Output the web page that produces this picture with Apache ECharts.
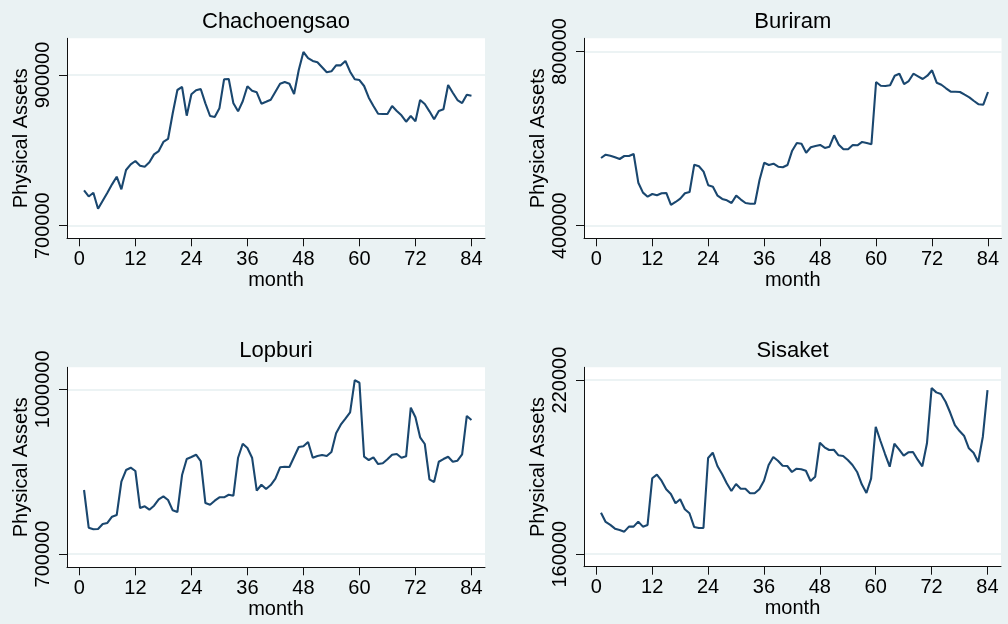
<!DOCTYPE html>
<html><head><meta charset="utf-8">
<script src="https://cdn.jsdelivr.net/npm/echarts@6/dist/echarts.min.js"></script>
<style>html,body{margin:0;padding:0;background:#eaf2f3}#c{width:1008px;height:624px}</style>
</head><body><div id="c"></div><script>
const months = [1,2,3,4,5,6,7,8,9,10,11,12,13,14,15,16,17,18,19,20,21,22,23,24,25,26,27,28,29,30,31,32,33,34,35,36,37,38,39,40,41,42,43,44,45,46,47,48,49,50,51,52,53,54,55,56,57,58,59,60,61,62,63,64,65,66,67,68,69,70,71,72,73,74,75,76,77,78,79,80,81,82,83,84];
const xTicks = [0,12,24,36,48,60,72,84];
const panelTitles = ['Chachoengsao','Buriram','Lopburi','Sisaket'];
const chachoengsao = [746800,738800,743700,722500,733200,743800,754900,765000,748300,773900,
 781500,785900,779600,778300,784100,794700,799100,811100,815100,849200,
 880100,884100,846000,874400,879700,881400,862400,845600,844200,855800,
 894300,894700,862400,851800,865100,885000,879100,877000,861900,864500,
 867200,877800,888400,890700,888400,874800,906600,930500,922500,918600,
 916800,910200,903600,904900,912800,912800,918600,904400,894300,893300,
 885400,869900,858800,848600,848200,848200,858800,852200,846500,838000,
 845600,838500,866800,861500,851800,841200,852200,854500,886700,876500,
 866800,862800,873800,872500];
const buriram = [555400,563000,560700,557000,553100,560000,560000,564600,498700,475800,
 466600,472800,469800,474400,475100,447500,454400,462000,474400,477400,
 540100,536400,524000,492800,489500,468900,461300,458300,452100,468900,
 460000,452000,450500,450500,504900,544600,539400,542400,535500,534100,
 539400,572200,589900,588300,567600,580000,583000,585300,578400,581400,
 607600,586000,575400,575400,585300,584600,592200,589900,586900,729900,
 721400,720800,722300,744400,749000,725300,732200,749000,743000,736800,
 744400,756800,728300,723700,715500,707700,707700,707000,700800,694800,
 686300,678700,677800,707000];
const lopburi = [816600,747900,745000,745500,754600,756500,768000,771000,831700,853000,
 857200,851200,783800,786900,780700,788000,799600,805100,798400,779600,
 776500,843900,873000,876700,880900,869400,792900,789800,797100,803300,
 803300,808000,806200,875400,900900,893100,875400,815300,826200,818400,
 825700,837200,857900,859000,858500,876700,894900,896200,904000,875400,
 878500,880300,878500,885800,919900,935500,946500,958100,1016900,1012000,
 877200,871200,876100,863900,865200,872500,880900,882200,875400,878000,
 966500,949000,912600,900400,836100,831100,868100,873000,877200,868100,
 869900,881600,951400,944100];
const sisaket = [174320,171120,170090,168810,168360,167780,169500,169500,171220,169500,
 170090,186160,187400,185330,182370,180760,177550,178930,175490,174110,
 169400,169050,169050,193150,194970,190390,187640,184440,181790,184200,
 182580,182580,181000,181000,182370,185330,190740,193490,192220,190500,
 190390,188330,189460,189260,188770,185230,186710,198410,196830,195900,
 196000,194080,193840,192460,190740,188330,184090,181100,186020,203920,
 199100,194520,190150,198070,196140,193940,195110,195210,192560,190290,
 198210,217240,215760,215180,212530,208740,204510,202440,200720,196490,
 194970,191770,200480,216550];
const yTicks = [[700000,900000],[400000,800000],[700000,1000000],[160000,220000]];
const yRanges = [[683300,948700],[371000,830300],[675800,1040100],[155700,224400]];
const xRange = [-2.65, 86.9];
const seriesValues = [chachoengsao, buriram, lopburi, sisaket];

const FONT = 'Liberation Sans, Arial, Helvetica, sans-serif';
const layout = [
  {left:67, top:38.3, width:418, height:200},
  {left:584, top:38.3, width:417.5, height:200},
  {left:67, top:367.3, width:418, height:200},
  {left:584, top:367.3, width:417, height:199.4}
];
const axisLine = {show:true, onZero:false, lineStyle:{color:'#111', width:1}};
const grids=[], xAxes=[], yAxes=[], series=[], titles=[];
for (let i=0;i<4;i++){
  const L = layout[i];
  grids.push({left:L.left, top:L.top, width:L.width, height:L.height, show:true,
    backgroundColor:'#ffffff', borderWidth:0, outerBoundsMode:'none'});
  xAxes.push({type:'value', gridIndex:i, min:xRange[0], max:xRange[1],
    axisLine, axisTick:{show:true, length:8, customValues:xTicks, lineStyle:{color:'#111'}},
    axisLabel:{customValues:xTicks, fontSize:20, margin:11, color:'#000', fontFamily:FONT,
      formatter:v=>String(v)},
    splitLine:{show:false},
    name:'month', nameLocation:'middle', nameGap:32,
    nameTextStyle:{fontSize:20, color:'#000', fontFamily:FONT}});
  yAxes.push({type:'value', gridIndex:i, min:yRanges[i][0], max:yRanges[i][1],
    axisLine, axisTick:{show:true, length:8, customValues:yTicks[i], lineStyle:{color:'#111'}},
    axisLabel:{customValues:yTicks[i], rotate:90, fontSize:20, margin:14, color:'#000', fontFamily:FONT,
      formatter:v=>String(v)},
    splitLine:{show:true, lineStyle:{color:'#e6eff1', width:1.5}},
    name:'Physical Assets', nameLocation:'middle', nameGap:36,
    nameTextStyle:{fontSize:20, color:'#000', fontFamily:FONT}});
  series.push({type:'line', xAxisIndex:i, yAxisIndex:i, showSymbol:false, symbol:'none',
    lineStyle:{color:'#1a476f', width:2.1}, itemStyle:{color:'#1a476f'},
    data: months.map((m,k)=>[m, seriesValues[i][k]])});
  titles.push({text:panelTitles[i], left:L.left + L.width/2, top:L.top-27.5, textAlign:'center', padding:0,
    textStyle:{fontSize:22, fontWeight:'normal', color:'#000', fontFamily:FONT}});
}
const chart = echarts.init(document.getElementById('c'), null, {renderer:'canvas'});
chart.setOption({backgroundColor:'#eaf2f3', animation:false, title:titles, grid:grids,
  xAxis:xAxes, yAxis:yAxes, series, tooltip:{show:false}});
</script></body></html>
